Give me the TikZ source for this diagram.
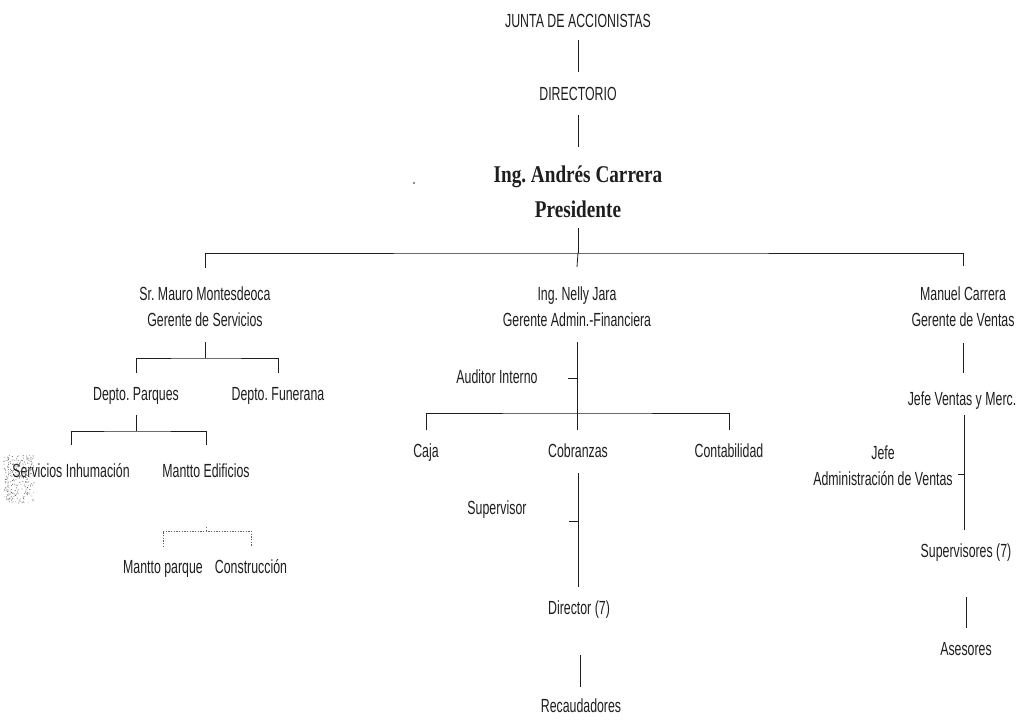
\documentclass[tikz,border=0pt]{standalone}
\usepackage{fontspec}
\setmainfont[FakeStretch=0.65]{Liberation Sans}
\newfontfamily\presfont[FakeStretch=0.8]{Liberation Serif}
\usetikzlibrary{calc}
\frenchspacing
\definecolor{ink}{HTML}{1E1E1E}
\tikzset{
  lbl/.style={inner sep=0pt, text=ink, font=\fontsize{14.25}{18.75}\selectfont,
    align=center, text height=10.5pt, text depth=3pt},
  lbltwo/.style={inner sep=0pt, text=ink, font=\fontsize{14.25}{19.5}\selectfont, align=center},
  mgr/.style={inner sep=0pt, text=ink, font=\fontsize{14.25}{19.5}\selectfont, align=center},
  boss/.style={inner sep=0pt, text=ink, align=center,
    font=\presfont\bfseries\fontsize{18}{26.25}\selectfont},
  link/.style={draw=ink, line width=0.6pt},
  dotlink/.style={draw=ink!70, line width=0.5pt, dash pattern=on 1pt off 1pt}
}
\begin{document}
\begin{tikzpicture}[x=0.75pt, y=-0.75pt]
\useasboundingbox (0,0) rectangle (1025,721);

% top of the hierarchy
\node[lbl] (junta) at (578,22) {JUNTA DE ACCIONISTAS};
\node[lbl] (dir)   at (578,95) {DIRECTORIO};
\node[boss] (pres) at (578,192) {Ing. Andrés Carrera\\Presidente};
\fill[ink] (414,183) circle (0.9);

\draw[link] ($(junta)+(0,18)$) -- ($(dir)+(0,-23)$);
\draw[link] ($(dir)+(0,20)$) -- ($(pres)+(0,-45)$);

% managers
\node[mgr] (serv)  at (205,307) {Sr. Mauro Montesdeoca\\Gerente de Servicios};
\node[mgr] (fin)   at (577,307) {Ing. Nelly Jara\\Gerente Admin.-Financiera};
\node[mgr] (vent)  at (963,307) {Manuel Carrera\\Gerente de Ventas};

\coordinate (bus) at ($(pres)+(0,61)$);
\draw[link] ($(pres)+(0,36)$) -- (bus);
\draw[link] ($(serv)+(0,-39)$) |- (bus) -| ($(vent)+(0,-41)$);
\draw[link] (bus) -- ($(fin)+(0,-40)$);

% services branch
\node[lbl] (parq) at (136,395) {Depto. Parques};
\node[lbl] (fune) at (278,395) {Depto. Funerana};
\coordinate (sbus) at ($(serv)+(0,51)$);
\draw[link] ($(serv)+(0,35)$) -- (sbus);
\draw[link] ($(parq)+(0,-22)$) |- (sbus) -| ($(fune)+(0,-22)$);

\node[lbl] (inhu) at (71,472)  {Servicios Inhumación};
\node[lbl] (edif) at (206,472) {Mantto Edificios};
\coordinate (pbus) at ($(parq)+(0,36)$);
\draw[link] ($(parq)+(0,20)$) -- ($(parq)+(0,36)$);
\draw[link] ($(inhu)+(0,-27)$) |- (pbus) -| ($(edif)+(0,-27)$);

% grain left on the scan beside the first label
\begin{scope}
  \pgfmathsetseed{7}
  \foreach \i in {1,...,260}{
    \pgfmathsetmacro{\px}{4+30*rnd}
    \pgfmathsetmacro{\py}{455+48*rnd}
    \pgfmathsetmacro{\pg}{25+45*rnd}
    \fill[black!\pg] (\px,\py) circle (0.55);
  }
\end{scope}

\node[lbl] (mpar) at (163,568) {Mantto parque};
\node[lbl] (cons) at (251,568) {Construcción};
\coordinate (ebus) at ($(edif)+(0,59)$);
\draw[dotlink] ($(edif)+(0,55)$) -- (ebus);
\draw[dotlink] ($(mpar)+(0,-21)$) |- (ebus) -| ($(cons)+(0,-21)$);

% finance branch
\node[lbl] (audi) at (497,378) {Auditor Interno};
\node[lbl] (caja) at (426,452) {Caja};
\node[lbl] (cobr) at (578,452) {Cobranzas};
\node[lbl] (cont) at (729,452) {Contabilidad};
\coordinate (fbus) at ($(fin)+(0,106)$);
\draw[link] ($(fin)+(0,35)$) -- (fbus);
\draw[link] ($(audi)+(71,0)$) -- ($(fin)+(0,71)$);
\draw[link] ($(caja)+(0,-22)$) |- (fbus) -| ($(cont)+(0,-22)$);
\draw[link] (fbus) -- ($(cobr)+(-1,-22)$);

\node[lbl] (supv) at (497,509) {Supervisor};
\node[lbl] (dire) at (579,609) {Director (7)};
\node[lbl] (reca) at (581,707) {Recaudadores};
\draw[link] ($(cobr)+(0,21)$) -- ($(dire)+(-1,-22)$);
\draw[link] ($(supv)+(72,12)$) -- ($(cobr)+(0,69)$);
\draw[link] ($(dire)+(1,46)$) -- ($(reca)+(-1,-20)$);

% sales branch
\node[lbl] (jvm)  at (962,400) {Jefe Ventas y Merc.};
\node[lbltwo] (jadm) at (883,466) {Jefe\\Administración de Ventas};
\node[lbl] (sups) at (966,552) {Supervisores (7)};
\node[lbl] (ases) at (966,650) {Asesores};
\draw[link] ($(vent)+(0,36)$) -- ($(jvm)+(1,-27)$);
\draw[link] ($(jvm)+(2,15)$) -- ($(sups)+(-2,-22)$);
\draw[link] ($(jadm)+(75,8)$) -- ($(jvm)+(2,74)$);
\draw[link] ($(sups)+(0,45)$) -- ($(ases)+(0,-22)$);
\end{tikzpicture}
\end{document}
